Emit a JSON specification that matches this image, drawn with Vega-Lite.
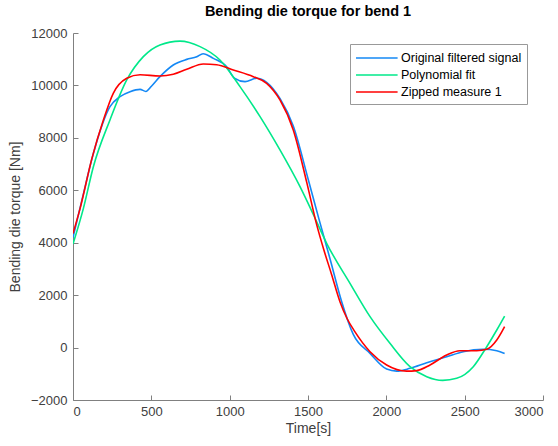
{
  "$schema": "https://vega.github.io/schema/vega-lite/v6.json",
  "width": 470,
  "height": 367,
  "autosize": {"type": "none"},
  "padding": {"left": 73, "top": 33, "right": 15, "bottom": 46},
  "background": "white",
  "title": {"text": "Bending die torque for bend 1", "font": "Liberation Sans", "fontSize": 14.5, "fontWeight": "bold", "color": "#000000", "offset": 8},
  "config": {"view": {"stroke": null}, "font": "Liberation Sans"},
  "data": {"values": [
    {"t": 0, "v": 4200, "s": "Original filtered signal"},
    {"t": 60, "v": 5700, "s": "Original filtered signal"},
    {"t": 130, "v": 7400, "s": "Original filtered signal"},
    {"t": 236, "v": 9190, "s": "Original filtered signal"},
    {"t": 300, "v": 9570, "s": "Original filtered signal"},
    {"t": 364, "v": 9760, "s": "Original filtered signal"},
    {"t": 428, "v": 9850, "s": "Original filtered signal"},
    {"t": 465, "v": 9770, "s": "Original filtered signal"},
    {"t": 502, "v": 9980, "s": "Original filtered signal"},
    {"t": 555, "v": 10334, "s": "Original filtered signal"},
    {"t": 640, "v": 10780, "s": "Original filtered signal"},
    {"t": 726, "v": 10994, "s": "Original filtered signal"},
    {"t": 790, "v": 11093, "s": "Original filtered signal"},
    {"t": 830, "v": 11210, "s": "Original filtered signal"},
    {"t": 896, "v": 11032, "s": "Original filtered signal"},
    {"t": 981, "v": 10716, "s": "Original filtered signal"},
    {"t": 1030, "v": 10280, "s": "Original filtered signal"},
    {"t": 1098, "v": 10144, "s": "Original filtered signal"},
    {"t": 1172, "v": 10273, "s": "Original filtered signal"},
    {"t": 1236, "v": 10120, "s": "Original filtered signal"},
    {"t": 1321, "v": 9500, "s": "Original filtered signal"},
    {"t": 1406, "v": 8450, "s": "Original filtered signal"},
    {"t": 1502, "v": 6400, "s": "Original filtered signal"},
    {"t": 1570, "v": 4900, "s": "Original filtered signal"},
    {"t": 1640, "v": 3400, "s": "Original filtered signal"},
    {"t": 1715, "v": 1750, "s": "Original filtered signal"},
    {"t": 1789, "v": 500, "s": "Original filtered signal"},
    {"t": 1896, "v": -220, "s": "Original filtered signal"},
    {"t": 2002, "v": -820, "s": "Original filtered signal"},
    {"t": 2066, "v": -900, "s": "Original filtered signal"},
    {"t": 2151, "v": -792, "s": "Original filtered signal"},
    {"t": 2258, "v": -577, "s": "Original filtered signal"},
    {"t": 2385, "v": -348, "s": "Original filtered signal"},
    {"t": 2491, "v": -157, "s": "Original filtered signal"},
    {"t": 2619, "v": -66, "s": "Original filtered signal"},
    {"t": 2705, "v": -120, "s": "Original filtered signal"},
    {"t": 2755, "v": -230, "s": "Original filtered signal"},

    {"t": 0, "v": 3950, "s": "Polynomial fit"},
    {"t": 66, "v": 5300, "s": "Polynomial fit"},
    {"t": 130, "v": 6900, "s": "Polynomial fit"},
    {"t": 236, "v": 8682, "s": "Polynomial fit"},
    {"t": 343, "v": 10208, "s": "Polynomial fit"},
    {"t": 449, "v": 11097, "s": "Polynomial fit"},
    {"t": 555, "v": 11543, "s": "Polynomial fit"},
    {"t": 683, "v": 11690, "s": "Polynomial fit"},
    {"t": 811, "v": 11480, "s": "Polynomial fit"},
    {"t": 938, "v": 10970, "s": "Polynomial fit"},
    {"t": 1066, "v": 9953, "s": "Polynomial fit"},
    {"t": 1194, "v": 8808, "s": "Polynomial fit"},
    {"t": 1321, "v": 7538, "s": "Polynomial fit"},
    {"t": 1449, "v": 6137, "s": "Polynomial fit"},
    {"t": 1540, "v": 5000, "s": "Polynomial fit"},
    {"t": 1619, "v": 3978, "s": "Polynomial fit"},
    {"t": 1768, "v": 2452, "s": "Polynomial fit"},
    {"t": 1896, "v": 1179, "s": "Polynomial fit"},
    {"t": 2023, "v": 163, "s": "Polynomial fit"},
    {"t": 2151, "v": -728, "s": "Polynomial fit"},
    {"t": 2258, "v": -1110, "s": "Polynomial fit"},
    {"t": 2360, "v": -1250, "s": "Polynomial fit"},
    {"t": 2449, "v": -1173, "s": "Polynomial fit"},
    {"t": 2555, "v": -728, "s": "Polynomial fit"},
    {"t": 2641, "v": 33, "s": "Polynomial fit"},
    {"t": 2705, "v": 670, "s": "Polynomial fit"},
    {"t": 2755, "v": 1200, "s": "Polynomial fit"},

    {"t": 0, "v": 4350, "s": "Zipped measure 1"},
    {"t": 45, "v": 5300, "s": "Zipped measure 1"},
    {"t": 120, "v": 7200, "s": "Zipped measure 1"},
    {"t": 194, "v": 8682, "s": "Zipped measure 1"},
    {"t": 257, "v": 9700, "s": "Zipped measure 1"},
    {"t": 343, "v": 10273, "s": "Zipped measure 1"},
    {"t": 428, "v": 10410, "s": "Zipped measure 1"},
    {"t": 555, "v": 10360, "s": "Zipped measure 1"},
    {"t": 640, "v": 10427, "s": "Zipped measure 1"},
    {"t": 726, "v": 10617, "s": "Zipped measure 1"},
    {"t": 832, "v": 10820, "s": "Zipped measure 1"},
    {"t": 917, "v": 10790, "s": "Zipped measure 1"},
    {"t": 1023, "v": 10590, "s": "Zipped measure 1"},
    {"t": 1151, "v": 10334, "s": "Zipped measure 1"},
    {"t": 1236, "v": 10080, "s": "Zipped measure 1"},
    {"t": 1321, "v": 9445, "s": "Zipped measure 1"},
    {"t": 1406, "v": 8300, "s": "Zipped measure 1"},
    {"t": 1492, "v": 6300, "s": "Zipped measure 1"},
    {"t": 1555, "v": 4700, "s": "Zipped measure 1"},
    {"t": 1600, "v": 3750, "s": "Zipped measure 1"},
    {"t": 1650, "v": 2800, "s": "Zipped measure 1"},
    {"t": 1704, "v": 1750, "s": "Zipped measure 1"},
    {"t": 1750, "v": 1100, "s": "Zipped measure 1"},
    {"t": 1800, "v": 600, "s": "Zipped measure 1"},
    {"t": 1896, "v": -157, "s": "Zipped measure 1"},
    {"t": 2002, "v": -665, "s": "Zipped measure 1"},
    {"t": 2130, "v": -900, "s": "Zipped measure 1"},
    {"t": 2194, "v": -880, "s": "Zipped measure 1"},
    {"t": 2279, "v": -665, "s": "Zipped measure 1"},
    {"t": 2385, "v": -283, "s": "Zipped measure 1"},
    {"t": 2470, "v": -120, "s": "Zipped measure 1"},
    {"t": 2577, "v": -120, "s": "Zipped measure 1"},
    {"t": 2641, "v": -66, "s": "Zipped measure 1"},
    {"t": 2705, "v": 290, "s": "Zipped measure 1"},
    {"t": 2755, "v": 800, "s": "Zipped measure 1"}
  ]},
  "mark": {"type": "line", "interpolate": "monotone", "clip": true},
  "encoding": {
    "x": {"field": "t", "type": "quantitative",
      "scale": {"domain": [0, 3000], "nice": false, "zero": false},
      "axis": {"title": "Time[s]", "values": [0, 500, 1000, 1500, 2000, 2500, 3000], "grid": false, "format": "d",
        "domainColor": "#808080", "tickColor": "#808080", "tickSize": -5,
        "labelColor": "#404040", "labelFontSize": 13, "labelPadding": 10,
        "titleColor": "#404040", "titleFontSize": 14, "titleFontWeight": "normal", "titlePadding": 3}},
    "y": {"field": "v", "type": "quantitative",
      "scale": {"domain": [-2000, 12000], "nice": false, "zero": false},
      "axis": {"title": "Bending die torque [Nm]", "values": [-2000, 0, 2000, 4000, 6000, 8000, 10000, 12000], "grid": false, "format": "d",
        "domainColor": "#808080", "tickColor": "#808080", "tickSize": -5,
        "labelColor": "#404040", "labelFontSize": 13, "labelPadding": 11,
        "titleColor": "#404040", "titleFontSize": 14, "titleFontWeight": "normal", "titlePadding": 8}},
    "color": {"field": "s", "type": "nominal",
      "scale": {"domain": ["Original filtered signal", "Polynomial fit", "Zipped measure 1"], "range": ["#1488F5", "#00E88A", "#FF0000"]},
      "legend": {"title": null, "orient": "none", "legendX": 277, "legendY": 11,
        "symbolType": "M-1,0H4.2", "symbolSize": 256, "symbolStrokeWidth": 2, "symbolOffset": 0,
        "labelFontSize": 12.5, "labelColor": "#000000", "labelOffset": 28, "rowPadding": 1,
        "strokeColor": "#999999", "fillColor": "white", "padding": 5}},
    "strokeWidth": {"field": "s", "type": "nominal",
      "scale": {"domain": ["Original filtered signal", "Polynomial fit", "Zipped measure 1"], "range": [1.6, 1.6, 2.8]},
      "legend": null}
  }
}
